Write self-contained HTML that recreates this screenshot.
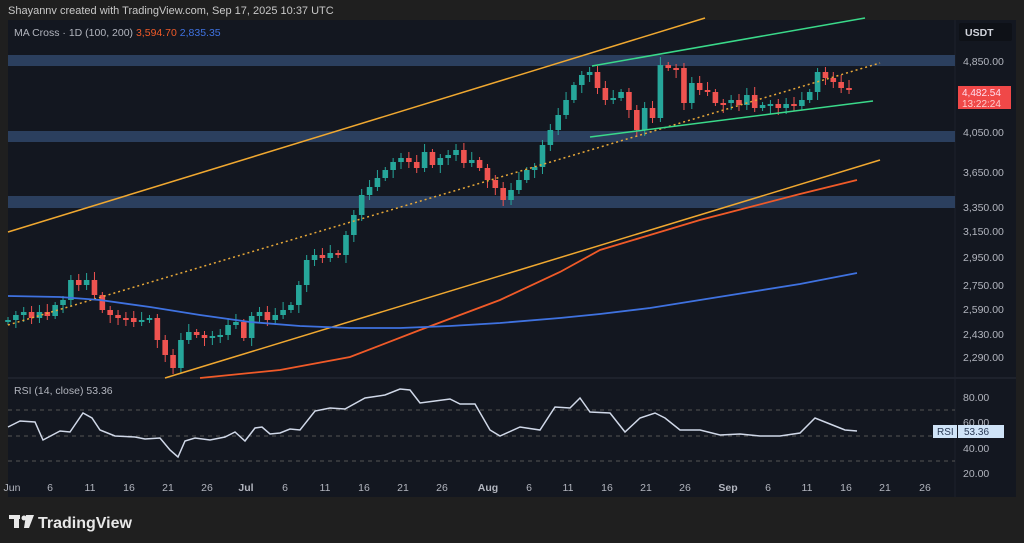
<!DOCTYPE html><html><head><meta charset="utf-8"><style>
body{margin:0;width:1024px;height:543px;background:#1f1f1f;overflow:hidden;font-family:"Liberation Sans",sans-serif}
#top{position:absolute;left:8px;top:5px;color:#c8c8c8;font-size:11px}
svg{position:absolute;left:0;top:0}
</style></head><body>
<div id="top">Shayannv created with TradingView.com, Sep 17, 2025 10:37 UTC</div>
<svg id="s" width="1024" height="543" xmlns="http://www.w3.org/2000/svg" font-family="Liberation Sans, sans-serif">
<rect x="8" y="20" width="1008" height="477" fill="#131720"/>
<line x1="8" y1="378" x2="1016" y2="378" stroke="#2a2e39"/>
<line x1="955" y1="20" x2="955" y2="497" stroke="#1e222d"/>
<rect x="8" y="55" width="947" height="11" fill="#2b3f5e"/>
<rect x="8" y="131" width="947" height="11" fill="#2b3f5e"/>
<rect x="8" y="196" width="947" height="12" fill="#2b3f5e"/>
<g id="c"></g>
<line x1="8" y1="232" x2="705" y2="18" stroke="#f0a830" stroke-width="1.5"/>
<line x1="165" y1="378" x2="880" y2="160" stroke="#f0a830" stroke-width="1.5"/>
<line x1="8" y1="325" x2="880" y2="63" stroke="#e8a838" stroke-width="1.5" stroke-dasharray="2,3"/>
<line x1="592" y1="66" x2="865" y2="18" stroke="#3ad98a" stroke-width="1.5"/>
<line x1="590" y1="137" x2="873" y2="101" stroke="#3ad98a" stroke-width="1.5"/>
<polyline fill="none" stroke="#f05a28" stroke-width="1.8" points="200,378 280,370 350,357 420,330 500,300 560,272 600,250 650,235 700,220 750,207 800,194 857,180"/>
<polyline fill="none" stroke="#3f72e0" stroke-width="1.8" points="8,296 60,297 100,300 150,307 200,315 250,322 300,326 350,328 400,328 450,326 500,323 560,318 600,314 650,308 700,300 750,292 800,284 857,273"/>
<line x1="8" y1="410" x2="955" y2="410" stroke="#555" stroke-dasharray="4,4"/>
<line x1="8" y1="436" x2="955" y2="436" stroke="#555" stroke-dasharray="4,4"/>
<line x1="8" y1="461" x2="955" y2="461" stroke="#555" stroke-dasharray="4,4"/>
<polyline fill="none" stroke="#d0d8e8" stroke-width="1.5" points="8,427 20,421 35,422 43,440 60,431 70,432 83,413 92,418 100,430 115,436 135,437 145,439 160,438 170,450 178,457 185,441 195,438 210,440 225,437 235,432 245,441 255,428 262,427 270,434 280,433 290,429 300,430 315,411 330,408 345,409 365,398 385,395 400,389 410,390 420,403 435,401 450,399 460,404 475,404 490,430 500,436 520,427 540,430 555,407 570,408 580,398 590,412 610,413 625,432 640,418 655,413 665,418 680,430 700,430 720,435 740,434 760,436 780,436 800,433 815,418 830,424 845,430 857,431"/>
<text x="14" y="36" font-size="10.5" fill="#b2b5be">MA Cross · 1D (100, 200) <tspan fill="#f05a28">3,594.70</tspan> <tspan fill="#3f72e0">2,835.35</tspan></text>
<text x="14" y="394" font-size="10.5" fill="#b2b5be">RSI (14, close)  53.36</text>
<rect x="959" y="23" width="53" height="18" rx="2" fill="#0e1117"/>
<text x="965" y="36" font-size="10.5" fill="#d1d4dc" font-weight="bold">USDT</text>
<g font-size="10.5" fill="#b2b5be">
<text x="963" y="65">4,850.00</text><text x="963" y="136">4,050.00</text><text x="963" y="176">3,650.00</text><text x="963" y="211">3,350.00</text><text x="963" y="235">3,150.00</text><text x="963" y="261">2,950.00</text><text x="963" y="289">2,750.00</text><text x="963" y="313">2,590.00</text><text x="963" y="338">2,430.00</text><text x="963" y="361">2,290.00</text>
<text x="963" y="401">80.00</text><text x="963" y="426">60.00</text><text x="963" y="452">40.00</text><text x="963" y="477">20.00</text>
</g>
<rect x="958" y="86" width="53" height="23" fill="#f04848"/>
<text x="962" y="96" font-size="10" fill="#fde">4,482.54</text>
<text x="962" y="107" font-size="10" fill="#fcc">13:22:24</text>
<rect x="933" y="425" width="24" height="13" fill="#cfe3f7"/><text x="937" y="435" font-size="10" fill="#2a3a55">RSI</text>
<rect x="958" y="425" width="46" height="13" fill="#cfe3f7"/><text x="964" y="435" font-size="10" fill="#2a3a55">53.36</text>
<g font-size="10.5" fill="#b2b5be" text-anchor="middle">
<text x="12" y="491">Jun</text><text x="50" y="491">6</text><text x="90" y="491">11</text><text x="129" y="491">16</text><text x="168" y="491">21</text><text x="207" y="491">26</text><text x="246" y="491" font-weight="bold">Jul</text><text x="285" y="491">6</text><text x="325" y="491">11</text><text x="364" y="491">16</text><text x="403" y="491">21</text><text x="442" y="491">26</text><text x="488" y="491" font-weight="bold">Aug</text><text x="529" y="491">6</text><text x="568" y="491">11</text><text x="607" y="491">16</text><text x="646" y="491">21</text><text x="685" y="491">26</text><text x="728" y="491" font-weight="bold">Sep</text><text x="768" y="491">6</text><text x="807" y="491">11</text><text x="846" y="491">16</text><text x="885" y="491">21</text><text x="925" y="491">26</text>
</g>
<g fill="#e8e8e8">
<rect x="9" y="515" width="11" height="4"/><rect x="14" y="515" width="5" height="13"/>
<circle cx="24" cy="518" r="2.5"/>
<polygon points="26,515 34,515 29,528 24,528"/>
</g>
<text x="38" y="528" font-size="16" font-weight="bold" fill="#e8e8e8">TradingView</text>
</svg>
<script>
var cl=[320,315,312,318,312,316,305,300,280,285,280,295,310,315,318,318,322,320,318,340,355,368,340,332,335,338,336,335,325,322,338,316,312,320,315,310,305,285,260,255,258,253,255,235,215,195,187,178,170,162,158,162,168,152,165,158,155,150,163,160,168,180,188,200,190,180,170,167,145,130,115,100,85,75,72,88,100,98,92,110,130,108,118,65,68,68,103,83,90,92,103,103,100,105,95,108,105,104,108,104,106,100,92,72,78,82,88,90];
var g=document.getElementById('c'),h='',px=7.86,p=322;
for(var i=0;i<cl.length;i++){var x=8+i*px,o=p,c=cl[i],up=c<o,t=Math.min(o,c),b=Math.max(o,c);if(b-t<2){b=t+2;}
var col=up?'#26a69a':'#ef5350';var hi=t-3-(i*7%6),lo=b+3+(i*5%6);
h+='<line x1="'+x+'" y1="'+hi+'" x2="'+x+'" y2="'+lo+'" stroke="'+col+'"/><rect x="'+(x-2.8)+'" y="'+t+'" width="5.6" height="'+(b-t)+'" fill="'+col+'"/>';p=c;}
g.innerHTML=h;
</script>
</body></html>
